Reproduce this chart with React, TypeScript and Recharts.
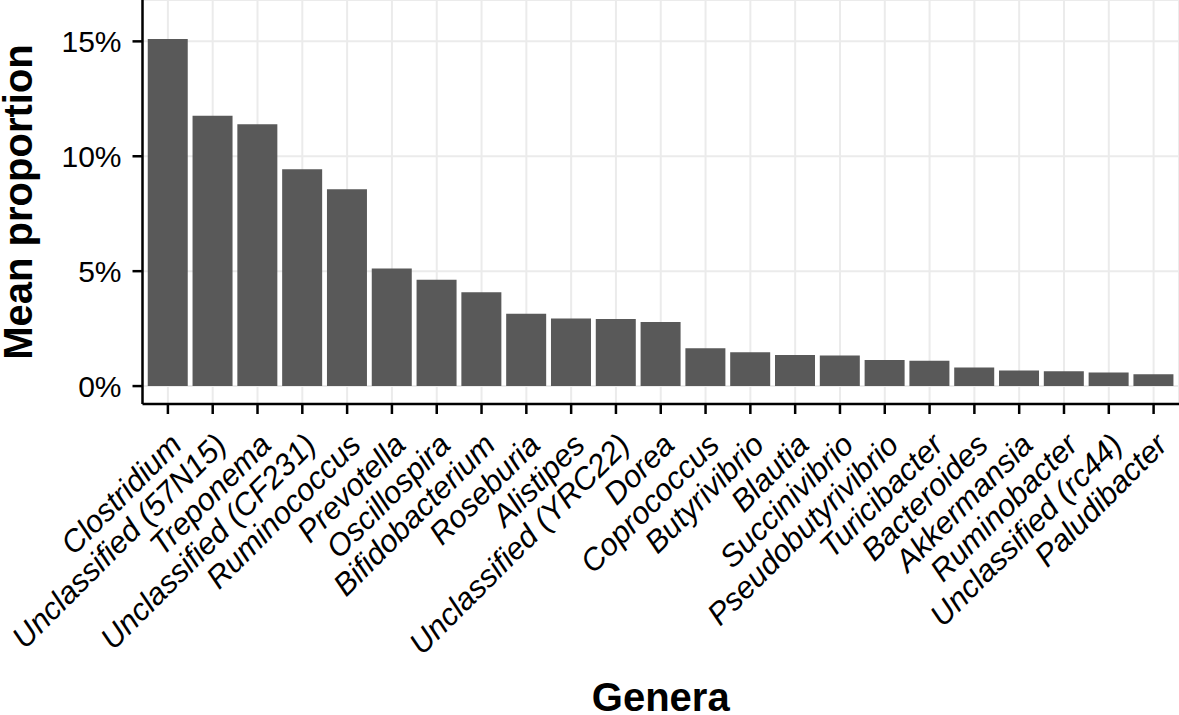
import { BarChart, Bar, XAxis, YAxis, CartesianGrid, Label } from 'recharts'

const genera = [
  'Clostridium',
  'Unclassified (57N15)',
  'Treponema',
  'Unclassified (CF231)',
  'Ruminococcus',
  'Prevotella',
  'Oscillospira',
  'Bifidobacterium',
  'Roseburia',
  'Alistipes',
  'Unclassified (YRC22)',
  'Dorea',
  'Coprococcus',
  'Butyrivibrio',
  'Blautia',
  'Succinivibrio',
  'Pseudobutyrivibrio',
  'Turicibacter',
  'Bacteroides',
  'Akkermansia',
  'Ruminobacter',
  'Unclassified (rc44)',
  'Paludibacter',
]

// mean proportion, in percent
const meanProportion = [
  15.1, 11.76, 11.39, 9.43, 8.57, 5.12, 4.63, 4.08, 3.15, 2.94, 2.92, 2.79,
  1.65, 1.47, 1.35, 1.33, 1.13, 1.1, 0.81, 0.68, 0.65, 0.59, 0.51,
]

const yTicks = [0, 5, 10, 15]

const data = genera.map((genus, i) => ({ genus, value: meanProportion[i] }))

const FONT = '"Liberation Sans", Arial, Helvetica, sans-serif'

function GenusTick({ x, y, payload }: any) {
  return (
    <g transform={`translate(${x},${y})`}>
      <text
        x={-10}
        y={32}
        textAnchor="end"
        transform="rotate(-45)"
        fontFamily={FONT}
        fontSize={31}
        fontStyle="italic"
        fill="#000"
      >
        {payload.value}
      </text>
    </g>
  )
}

function XTitle({ viewBox }: any) {
  const cx = viewBox ? viewBox.x + viewBox.width / 2 : 660
  const by = viewBox ? viewBox.y + viewBox.height - 4 : 711
  return (
    <text x={cx} y={by} textAnchor="middle" fontFamily={FONT} fontSize={40} fontWeight="bold" fill="#000">
      Genera
    </text>
  )
}

function YTitle({ viewBox }: any) {
  const cx = 32
  const cy = viewBox ? viewBox.y + viewBox.height / 2 : 202
  return (
    <text
      x={cx}
      y={cy}
      transform={`rotate(-90, ${cx}, ${cy})`}
      textAnchor="middle"
      fontFamily={FONT}
      fontSize={40}
      fontWeight="bold"
      fill="#000"
    >
      Mean proportion
    </text>
  )
}

export default function App() {
  return (
    <div style={{ position: 'absolute', left: 0, top: 0, background: '#fff' }}>
      <BarChart
        width={1179}
        height={715}
        data={data}
        margin={{ top: 0, right: 0, bottom: 0, left: 0 }}
        barCategoryGap="5%"
      >
        <CartesianGrid stroke="#ebebeb" strokeWidth={2} />
        <XAxis
          dataKey="genus"
          interval={0}
          height={311}
          padding={{ left: 3, right: 3 }}
          tickSize={10}
          tickMargin={3}
          tick={<GenusTick />}
          axisLine={{ stroke: '#000', strokeWidth: 2.5 }}
          tickLine={{ stroke: '#000', strokeWidth: 2.5 }}
        >
          <Label content={<XTitle />} />
        </XAxis>
        <YAxis
          width={142.5}
          domain={[-0.78, 16.8]}
          allowDataOverflow
          ticks={yTicks}
          tickFormatter={(v: number) => `${v}%`}
          tickSize={10}
          tickMargin={11}
          tick={{ fill: '#000', fontSize: 30, fontFamily: FONT }}
          axisLine={{ stroke: '#000', strokeWidth: 2.5 }}
          tickLine={{ stroke: '#000', strokeWidth: 2.5 }}
        >
          <Label content={<YTitle />} />
        </YAxis>
        <Bar dataKey="value" fill="#595959" isAnimationActive={false} />
      </BarChart>
    </div>
  )
}
